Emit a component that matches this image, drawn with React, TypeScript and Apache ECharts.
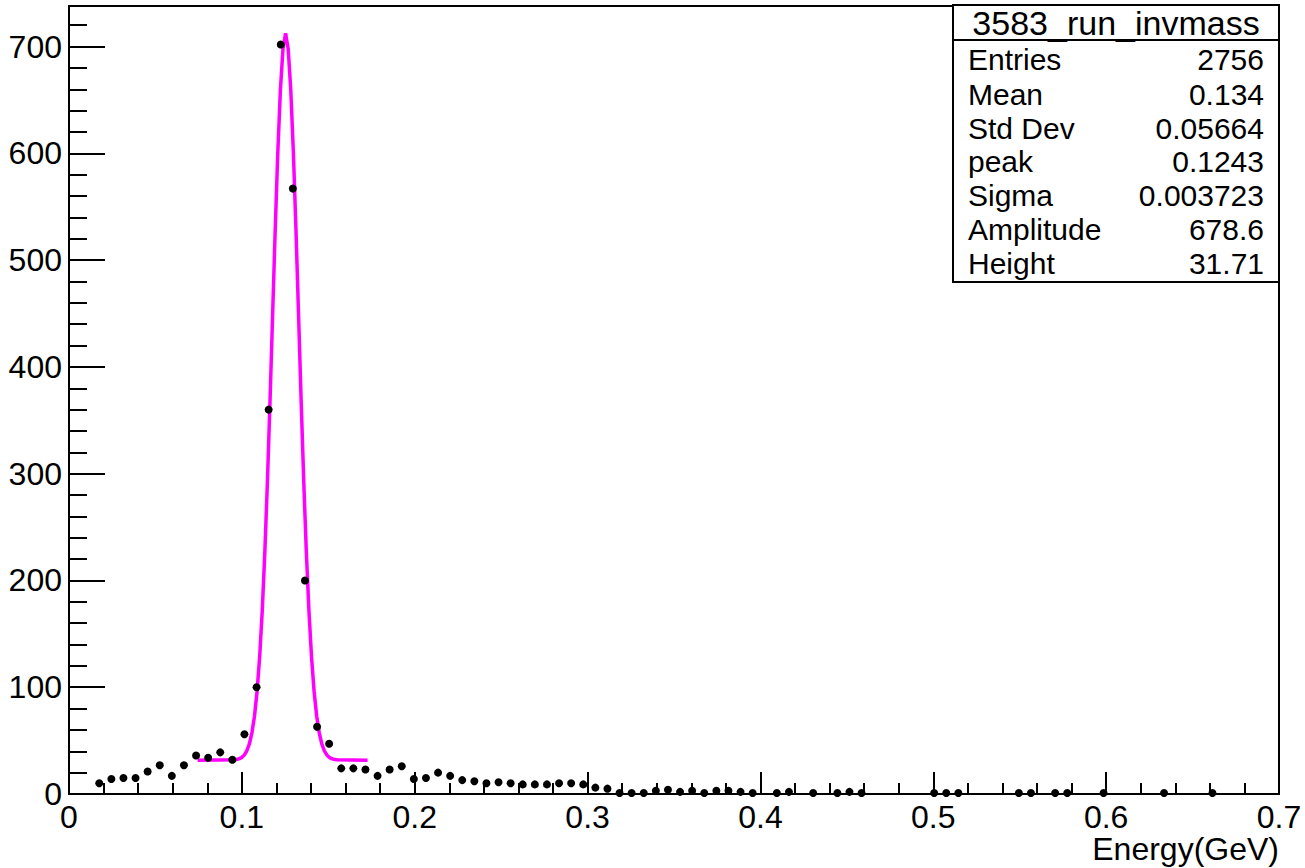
import React, { useEffect, useRef } from "react";
import * as echarts from "echarts";

// Histogram bin centres (GeV) and counts (empty bins omitted)
const binCenters: number[] = [
  0.0175, 0.0245, 0.0315, 0.0385, 0.0455, 0.0525, 0.0595, 0.0665, 0.0735, 0.0805,
  0.0875, 0.0945, 0.1015, 0.1085, 0.1155, 0.1225, 0.1295, 0.1365, 0.1435, 0.1505,
  0.1575, 0.1645, 0.1715, 0.1785, 0.1855, 0.1925, 0.1995, 0.2065, 0.2135, 0.2205,
  0.2275, 0.2345, 0.2415, 0.2485, 0.2555,
  0.2625, 0.2695, 0.2765, 0.2835, 0.2905, 0.2975, 0.3045, 0.3115, 0.3185, 0.3255,
  0.3325, 0.3395, 0.3465, 0.3535, 0.3605, 0.3675, 0.3745, 0.3815, 0.3885, 0.3955,
  0.4095, 0.4165, 0.4305, 0.4445, 0.4515, 0.4585, 0.5005, 0.5075, 0.5145, 0.5495,
  0.5565, 0.5705, 0.5775, 0.5985, 0.6335, 0.6615,
];
const binCounts: number[] = [
  10, 14, 15, 15, 21, 27, 17, 27, 36, 34,
  39, 32, 56, 100, 360, 702, 567, 200, 63, 47,
  24, 24, 23, 17, 23, 26, 14, 15, 20, 17,
  13, 12, 10, 11, 10,
  9, 9, 9, 10, 10, 9, 6, 5, 1, 1,
  1, 3, 4, 2, 3, 1, 3, 3, 2, 1,
  1, 2, 1, 1, 2, 1, 1, 1, 1, 1,
  1, 1, 1, 1, 1, 1,
];

// Fit curve points
const fitX: number[] = [
  0.0744, 0.0953, 0.0968, 0.0983, 0.0998, 0.1013, 0.1028, 0.1043, 0.1058, 0.1073,
  0.1088, 0.1103, 0.1118, 0.1133, 0.1148, 0.1163, 0.1178, 0.1193, 0.1208, 0.1223,
  0.1238, 0.1253, 0.1268, 0.1283, 0.1298, 0.1313, 0.1328, 0.1343, 0.1358, 0.1373,
  0.1388, 0.1403, 0.1418, 0.1433, 0.1448, 0.1463, 0.1478, 0.1493, 0.1508, 0.1523,
  0.1538, 0.1553, 0.1727,
];
const fitY: number[] = [
  31.7, 32.0, 32.3, 32.9, 34.1, 36.3, 40.2, 46.6, 57.0, 72.8,
  96.0, 128.5, 171.8, 226.8, 293.0, 368.3, 448.8, 528.6, 601.1, 659.4,
  698.0, 712.5, 698.0, 659.4, 601.1, 528.6, 448.8, 368.3, 293.0, 226.8,
  171.8, 128.5, 96.0, 72.8, 57.0, 46.6, 40.2, 36.3, 34.1, 32.9,
  32.3, 32.0, 31.7,
];

const xTickLabels: string[] = ["0", "0.1", "0.2", "0.3", "0.4", "0.5", "0.6", "0.7"];
const yTickLabels: string[] = ["0", "100", "200", "300", "400", "500", "600", "700"];
const xAxisTitle = "Energy(GeV)";

const statsTitle = "3583_run_invmass";
const statsLabels: string[] = ["Entries", "Mean", "Std Dev", "peak", "Sigma", "Amplitude", "Height"];
const statsValues: string[] = ["2756", "0.134", "0.05664", "0.1243", "0.003723", "678.6", "31.71"];

const FONT = "'Liberation Sans', Arial, Helvetica, sans-serif";

export default function App() {
  const ref = useRef<HTMLDivElement>(null);

  useEffect(() => {
    if (!ref.current) return;
    const chart = echarts.init(ref.current, null, { renderer: "svg" });

    const boxX = 953;
    const boxY = 5;
    const boxW = 326;
    const boxH = 277;
    const rowY = [59, 94, 128, 161, 195, 229, 263];

    const graphics: any[] = [
      {
        type: "rect",
        shape: { x: boxX, y: boxY, width: boxW, height: boxH },
        style: { fill: "#fff", stroke: "#000", lineWidth: 2 },
        z: 100,
      },
      {
        type: "line",
        shape: { x1: boxX, y1: 40, x2: boxX + boxW, y2: 40 },
        style: { stroke: "#000", lineWidth: 2 },
        z: 101,
      },
      {
        type: "text",
        x: boxX + boxW / 2,
        y: 23,
        style: {
          text: statsTitle,
          font: `34px ${FONT}`,
          fill: "#000",
          align: "center",
          verticalAlign: "middle",
        },
        z: 101,
      },
      {
        type: "text",
        x: 1279,
        y: 849,
        style: {
          text: xAxisTitle,
          font: `32px ${FONT}`,
          fill: "#000",
          align: "right",
          verticalAlign: "middle",
        },
        z: 101,
      },
    ];
    statsLabels.forEach((lab, i) => {
      graphics.push({
        type: "text",
        x: 968,
        y: rowY[i],
        style: { text: lab, font: `30px ${FONT}`, fill: "#000", align: "left", verticalAlign: "middle" },
        z: 101,
      });
      graphics.push({
        type: "text",
        x: 1264,
        y: rowY[i],
        style: { text: statsValues[i], font: `30px ${FONT}`, fill: "#000", align: "right", verticalAlign: "middle" },
        z: 101,
      });
    });

    const axisLineStyle = { color: "#000", width: 2 };

    const option: any = {
      animation: false,
      backgroundColor: "#fff",
      grid: {
        left: 69,
        right: 26,
        top: 6,
        bottom: 74,
        containLabel: false,
        outerBoundsMode: "none",
        show: true,
        borderColor: "#000",
        borderWidth: 2,
        backgroundColor: "transparent",
      },
      xAxis: {
        type: "value",
        min: 0,
        max: 0.7,
        interval: 0.1,
        axisLine: { show: true, onZero: false, lineStyle: axisLineStyle },
        axisTick: { show: true, inside: true, length: 22, lineStyle: axisLineStyle },
        minorTick: { show: true, splitNumber: 5, length: 11, lineStyle: axisLineStyle },
        splitLine: { show: false },
        minorSplitLine: { show: false },
        axisLabel: {
          color: "#000",
          fontSize: 32,
          fontFamily: FONT,
          margin: 7,
          formatter: (v: number) => xTickLabels[Math.round(v * 10)] ?? "",
        },
      },
      yAxis: [
        {
          type: "value",
          min: 0,
          max: 738,
          interval: 20,
          axisLine: { show: true, onZero: false, lineStyle: axisLineStyle },
          axisTick: { show: true, inside: true, length: 18, lineStyle: axisLineStyle },
          splitLine: { show: false },
          axisLabel: {
            color: "#000",
            fontSize: 32,
            fontFamily: FONT,
            margin: 7,
            showMaxLabel: false,
            formatter: (v: number) => {
              const r = Math.round(v);
              if (r % 100 !== 0 || r > 700) return "";
              return yTickLabels[r / 100] ?? "";
            },
          },
        },
        {
          type: "value",
          min: 0,
          max: 738,
          interval: 100,
          position: "left",
          axisLine: { show: false },
          axisTick: { show: true, inside: true, length: 36, lineStyle: axisLineStyle },
          splitLine: { show: false },
          axisLabel: { show: false },
        },
      ],
      series: [
        {
          type: "line",
          yAxisIndex: 0,
          data: fitX.map((x, i) => [x, fitY[i]]),
          showSymbol: false,
          symbol: "none",
          lineStyle: { color: "#ff00ff", width: 3.5 },
          z: 2,
        },
        {
          type: "scatter",
          yAxisIndex: 0,
          data: binCenters.map((x, i) => [x, binCounts[i]]),
          symbol: "circle",
          symbolSize: 8,
          itemStyle: { color: "#000", opacity: 1 },
          z: 3,
        },
      ],
      graphic: graphics,
    };

    chart.setOption(option);
    return () => {
      chart.dispose();
    };
  }, []);

  return (
    <div
      ref={ref}
      style={{ position: "fixed", left: 0, top: 0, width: 1305, height: 868, background: "#fff" }}
    />
  );
}
